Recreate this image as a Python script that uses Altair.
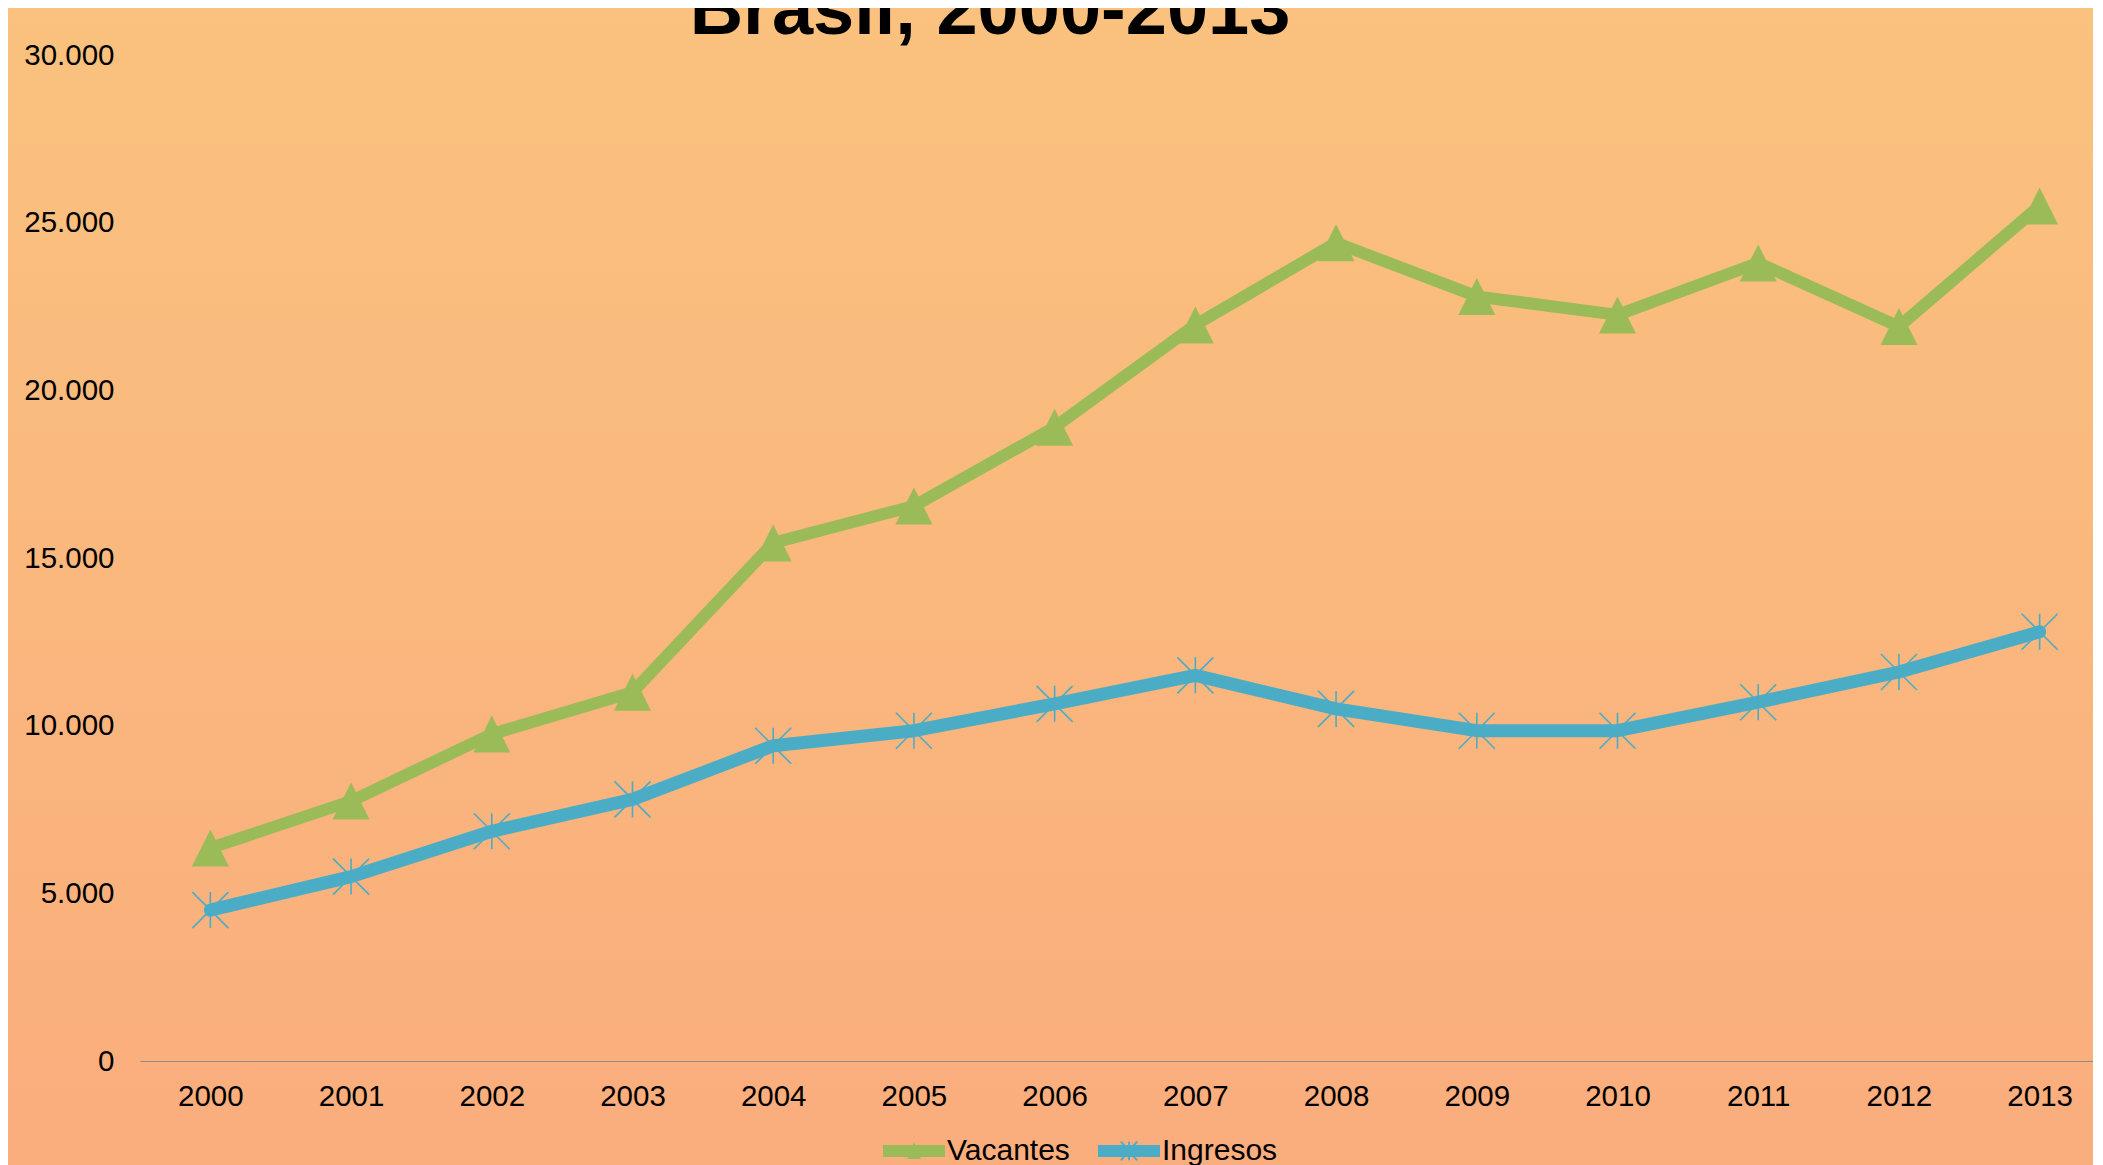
import altair as alt
import pandas as pd

# ---- data ----
years = [str(y) for y in range(2000, 2014)]
vacantes = [6350, 7750, 9750, 11000, 15450, 16550, 18900, 21950, 24400, 22800, 22250, 23800, 21900, 25500]
ingresos = [4500, 5500, 6850, 7800, 9400, 9850, 10650, 11500, 10500, 9850, 9850, 10700, 11600, 12800]
series = ["Vacantes", "Ingresos"]
colors = ["#9BBB59", "#4BACC6"]
y_ticks = [0, 5000, 10000, 15000, 20000, 25000, 30000]
title_text = "Brasil, 2000-2013"

FONT = "Liberation Sans"

df = pd.DataFrame(
    {"year": years * 2,
     "value": vacantes + ingresos,
     "series": [series[0]] * len(years) + [series[1]] * len(years)}
)


def arm(p, q, t):
    dx, dy = q[0] - p[0], q[1] - p[1]
    ln = (dx * dx + dy * dy) ** 0.5
    nx, ny = dy / ln * t, -dx / ln * t
    pts = [(p[0] + nx, p[1] + ny), (q[0] + nx, q[1] + ny), (q[0] - nx, q[1] - ny), (p[0] - nx, p[1] - ny)]
    return "M" + "L".join(f"{x:.3f},{y:.3f}" for x, y in pts) + "Z"


bar = "M-1,-0.19L1,-0.19L1,0.19L-1,0.19Z"
leg_vac = bar + "M0,-0.3L0.22,0.26L-0.22,0.26Z"
leg_ing = bar + arm((0, -0.3), (0, 0.3), 0.03) + arm((-0.26, -0.3), (0.26, 0.3), 0.03) + arm((-0.26, 0.3), (0.26, -0.3), 0.03)

tri_path = "M0,-1L1,1L-1,1Z"
ast_path = "M0,-1L0,1M-1,-1L1,1M-1,1L1,-1"

x_enc = alt.X(
    "year:O",
    scale=alt.Scale(range=[0, 1970], padding=0.5),
    axis=alt.Axis(title=None, labelAngle=0, ticks=False, domainColor="#8C8C8C", domainWidth=1.2,
                  labelFontSize=29.5, labelFont=FONT, labelColor="#000000", labelPadding=21, zindex=2),
)
y_enc = alt.Y(
    "value:Q",
    scale=alt.Scale(domain=[0, 30000], nice=False),
    axis=alt.Axis(title=None, values=y_ticks, grid=False, domain=False, ticks=False,
                  labelFontSize=29.5, labelFont=FONT, labelColor="#000000", labelPadding=26, zindex=2,
                  labelExpr="replace(format(datum.value, ','), ',', '.')"),
)
color_scale = alt.Scale(domain=series, range=colors)

bg = alt.Chart(pd.DataFrame({"k": [0]})).mark_rect(
    fill=alt.Gradient(gradient="linear", x1=0, x2=0, y1=0, y2=1,
                      stops=[alt.GradientStop(color="#FAC27E", offset=0),
                             alt.GradientStop(color="#FAAD7D", offset=1)])
).encode(x=alt.value(-140), x2=alt.value(1990), y=alt.value(-50), y2=alt.value(1110))

title = alt.Chart(pd.DataFrame({"t": [title_text]})).mark_text(
    font=FONT, fontSize=74, fontWeight="bold", color="#000000", align="center", baseline="alphabetic"
).encode(x=alt.value(850), y=alt.value(-21), text="t:N")

base = alt.Chart(df)
vac = base.transform_filter(alt.datum.series == series[0])
ing = base.transform_filter(alt.datum.series == series[1])

line_vac = vac.mark_line(strokeWidth=12, strokeCap="round", strokeJoin="round", color=colors[0]).encode(
    x=x_enc, y=y_enc)
line_ing = ing.mark_line(strokeWidth=13, strokeCap="round", strokeJoin="round", color=colors[1]).encode(
    x=x_enc, y=y_enc)

tris = vac.mark_point(
    shape=tri_path, filled=True, size=1369, opacity=1, color=colors[0], strokeWidth=0
).encode(x=x_enc, y=y_enc)

asts = ing.mark_point(
    shape=ast_path, filled=False, size=1296, opacity=1, color=colors[1], strokeWidth=1.6
).encode(x=x_enc, y=y_enc)

leg = alt.Legend(title=None, orient="none", legendX=743, legendY=1065, direction="horizontal",
                 symbolSize=3844, symbolOpacity=1, symbolStrokeWidth=0,
                 labelFontSize=30, labelFont=FONT, labelColor="#000000", labelOffset=2,
                 columnPadding=28, padding=0, zindex=2)

legend_layer = base.transform_filter("false").mark_point(filled=True, opacity=1).encode(
    x=x_enc, y=y_enc,
    color=alt.Color("series:N", scale=color_scale, legend=leg),
    shape=alt.Shape("series:N", scale=alt.Scale(domain=series, range=[leg_vac, leg_ing]), legend=leg),
)

chart = alt.layer(bg, title, asts, line_vac, line_ing, tris, legend_layer).properties(
    width=1953, height=1006,
    autosize=alt.AutoSizeParams(type="none"),
    padding={"left": 132, "top": 47, "right": 0, "bottom": 104},
    background="#FAB67D",
).configure_view(stroke=None)

chart.save("out.html", embed_options={"renderer": "svg", "actions": False})
